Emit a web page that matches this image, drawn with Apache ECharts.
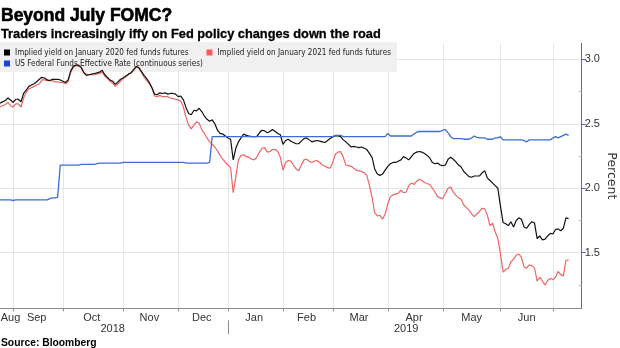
<!DOCTYPE html>
<html><head><meta charset="utf-8">
<script src="https://cdn.jsdelivr.net/npm/echarts@6/dist/echarts.min.js"></script>
<style>html,body{margin:0;padding:0;background:#fff}#c{width:620px;height:348px}</style>
</head><body><div id="c"></div>
<script>
// ---- data (trading-day series, Aug 2018 - Jul 2019) ----
const monthNames = ['Aug','Sep','Oct','Nov','Dec','Jan','Feb','Mar','Apr','May','Jun','Jul'];
const tradingDays = [5,19,23,21,19,21,19,21,21,22,20,12];
const yearLabels = ['2018','2019'];
const yTickValues = [1.5, 2.0, 2.5, 3.0];
const yMinorTicks = [1.25, 1.75, 2.25, 2.75];

const jan2020 = [2.66,2.67,2.68,2.70,2.685,2.665,2.69,2.69,2.67,2.735,
 2.76,2.79,2.80,2.81,2.825,2.845,2.86,2.855,2.84,2.835,
 2.845,2.845,2.845,2.84,2.83,2.82,2.84,2.91,2.945,2.955,
 2.955,2.935,2.895,2.875,2.88,2.885,2.89,2.895,2.90,2.915,
 2.88,2.86,2.84,2.83,2.805,2.825,2.845,2.855,2.87,2.885,
 2.895,2.92,2.945,2.935,2.905,2.875,2.85,2.82,2.78,2.73,
 2.725,2.74,2.735,2.74,2.73,2.735,2.735,2.73,2.71,2.715,
 2.685,2.625,2.58,2.57,2.605,2.60,2.62,2.595,2.56,2.535,
 2.52,2.53,2.50,2.45,2.425,2.42,2.405,2.39,2.38,2.22,
 2.31,2.36,2.39,2.42,2.41,2.405,2.40,2.40,2.40,2.43,
 2.45,2.445,2.43,2.44,2.455,2.44,2.425,2.415,2.34,2.37,
 2.38,2.365,2.355,2.345,2.345,2.365,2.385,2.39,2.375,2.36,
 2.365,2.37,2.365,2.36,2.355,2.37,2.385,2.40,2.405,2.405,
 2.40,2.375,2.36,2.34,2.32,2.325,2.32,2.315,2.32,2.31,
 2.30,2.27,2.24,2.15,2.11,2.10,2.11,2.14,2.17,2.19,
 2.20,2.20,2.21,2.22,2.245,2.235,2.22,2.245,2.27,2.28,
 2.285,2.28,2.27,2.255,2.235,2.20,2.19,2.195,2.18,2.175,
 2.18,2.225,2.24,2.225,2.205,2.18,2.165,2.13,2.11,2.09,
 2.085,2.095,2.095,2.095,2.12,2.135,2.08,2.06,2.04,2.02,
 2.00,1.86,1.735,1.725,1.71,1.74,1.70,1.75,1.77,1.76,
 1.70,1.69,1.72,1.74,1.73,1.61,1.63,1.60,1.605,1.63,
 1.65,1.645,1.68,1.685,1.67,1.69,1.77,1.765];

const jan2021 = [2.63,2.64,2.65,2.665,2.64,2.63,2.655,2.655,2.63,2.70,
 2.745,2.77,2.78,2.79,2.80,2.81,2.84,2.84,2.835,2.835,
 2.835,2.825,2.825,2.82,2.82,2.81,2.825,2.90,2.94,2.955,
 2.945,2.94,2.90,2.885,2.88,2.88,2.88,2.885,2.89,2.90,
 2.87,2.85,2.83,2.815,2.79,2.81,2.83,2.85,2.865,2.88,
 2.895,2.915,2.94,2.93,2.90,2.86,2.835,2.81,2.775,2.715,
 2.71,2.72,2.71,2.71,2.71,2.70,2.695,2.69,2.685,2.675,
 2.63,2.55,2.49,2.46,2.49,2.515,2.505,2.455,2.425,2.39,
 2.36,2.34,2.32,2.29,2.255,2.225,2.20,2.18,2.16,1.965,
 2.09,2.22,2.255,2.26,2.245,2.24,2.225,2.22,2.24,2.28,
 2.31,2.315,2.28,2.285,2.30,2.30,2.285,2.24,2.14,2.20,
 2.215,2.21,2.18,2.15,2.135,2.18,2.22,2.225,2.21,2.20,
 2.21,2.215,2.20,2.18,2.17,2.16,2.155,2.20,2.265,2.28,
 2.285,2.24,2.18,2.175,2.17,2.155,2.14,2.135,2.13,2.12,
 2.10,2.02,1.93,1.81,1.785,1.79,1.76,1.80,1.88,1.935,
 1.95,1.955,1.96,1.985,1.965,1.97,2.02,2.04,2.03,2.055,
 2.07,2.06,2.045,2.035,2.03,2.00,1.97,1.935,1.925,1.92,
 1.96,2.00,2.01,1.97,1.945,1.925,1.915,1.87,1.85,1.83,
 1.80,1.78,1.80,1.82,1.845,1.84,1.79,1.71,1.73,1.66,
 1.61,1.49,1.35,1.37,1.38,1.43,1.45,1.48,1.49,1.465,
 1.39,1.38,1.405,1.40,1.38,1.28,1.31,1.28,1.25,1.285,
 1.30,1.29,1.31,1.355,1.33,1.32,1.44,1.445];

const effRate = [1.91,1.91,1.91,1.91,1.91,1.905,1.91,1.91,1.91,1.91,
 1.91,1.91,1.91,1.91,1.91,1.91,1.91,1.91,1.91,1.92,
 1.925,1.925,1.93,2.18,2.18,2.18,2.18,2.18,2.18,2.18,
 2.18,2.185,2.185,2.185,2.185,2.185,2.185,2.19,2.195,2.195,
 2.195,2.195,2.195,2.195,2.195,2.195,2.195,2.20,2.20,2.20,
 2.20,2.20,2.20,2.20,2.20,2.20,2.20,2.20,2.20,2.20,
 2.20,2.20,2.20,2.20,2.20,2.20,2.20,2.20,2.20,2.20,
 2.20,2.195,2.195,2.195,2.195,2.195,2.195,2.195,2.195,2.195,
 2.20,2.40,2.40,2.40,2.40,2.40,2.40,2.40,2.40,2.40,
 2.40,2.40,2.40,2.40,2.40,2.40,2.40,2.40,2.40,2.40,
 2.40,2.40,2.40,2.40,2.40,2.40,2.40,2.40,2.40,2.40,
 2.40,2.40,2.40,2.40,2.40,2.40,2.40,2.40,2.40,2.40,
 2.40,2.40,2.40,2.40,2.40,2.40,2.40,2.40,2.41,2.41,
 2.41,2.40,2.40,2.40,2.40,2.40,2.40,2.40,2.40,2.40,
 2.40,2.40,2.40,2.40,2.40,2.40,2.40,2.40,2.425,2.405,
 2.405,2.405,2.405,2.405,2.405,2.405,2.405,2.405,2.42,2.435,
 2.44,2.44,2.44,2.44,2.44,2.44,2.44,2.44,2.44,2.45,
 2.455,2.43,2.40,2.385,2.385,2.385,2.385,2.38,2.38,2.38,
 2.39,2.405,2.395,2.39,2.39,2.39,2.38,2.38,2.38,2.39,
 2.39,2.40,2.375,2.375,2.375,2.375,2.375,2.375,2.375,2.375,
 2.37,2.36,2.375,2.375,2.375,2.375,2.375,2.375,2.375,2.375,
 2.375,2.39,2.40,2.39,2.40,2.41,2.42,2.41];

const nameJan20 = 'Implied yield on January 2020 fed funds futures';
const nameJan21 = 'Implied yield on January 2021 fed funds futures';
const nameEff = 'US Federal Funds Effective Rate (continuous series)';

// ---- axis bookkeeping built from the tables above ----
const categories = [];
const monthStart = [];
monthNames.forEach((m, i) => {
  monthStart.push(categories.length);
  for (let d = 0; d < tradingDays[i]; d++) categories.push(m + ' ' + (d + 1));
});
const labelAt = {};
monthNames.forEach((m, i) => {
  if (i === monthNames.length - 1) return;
  const idx = i === 0 ? monthStart[0] + tradingDays[0] - 1 : monthStart[i] + Math.floor(tradingDays[i] / 2);
  labelAt[idx] = m;
});
const tickSet = new Set(monthStart.slice(1));
const yearStart = monthStart[monthNames.indexOf('Jan')];
const yearLabelAt = {};
yearLabelAt[Math.floor(yearStart / 2)] = yearLabels[0];
yearLabelAt[Math.round((yearStart + categories.length - 1) / 2)] = yearLabels[1];

const cond = "'DejaVu Sans Condensed', 'Liberation Sans', sans-serif";
const sans = "'Liberation Sans', Arial, sans-serif";
const axisGray = '#8c8c8c';
const gridGray = '#e6e6e6';
const axisBlue = '#4a6ad0';

const chart = echarts.init(document.getElementById('c'), null, {renderer: 'canvas'});
chart.setOption({
  animation: false,
  backgroundColor: '#fff',
  title: [{
    text: 'Beyond July FOMC?',
    subtext: 'Traders increasingly iffy on Fed policy changes down the road',
    left: 1, top: 7, padding: 0, itemGap: 2,
    textStyle: {fontSize: 17.5, fontWeight: 'bold', color: '#000', fontFamily: sans,
      textBorderColor: '#000', textBorderWidth: 0.6},
    subtextStyle: {fontSize: 12.8, fontWeight: 'bold', color: '#000', fontFamily: sans,
      textBorderColor: '#000', textBorderWidth: 0.3}
  }, {
    text: 'Source: Bloomberg', left: 1, bottom: 0, padding: 0,
    textStyle: {fontSize: 10.3, fontWeight: 'bold', color: '#000', fontFamily: sans}
  }],
  legend: [{
    data: [{name: nameJan20, itemStyle: {color: '#000'}}, {name: nameJan21, itemStyle: {color: '#ff5a5a'}}],
    left: 0, top: 42, padding: [5, 6, 14, 4], itemGap: 18,
    itemWidth: 6, itemHeight: 6, icon: 'rect',
    backgroundColor: '#f0f0f0', selectedMode: false, z: 1,
    textStyle: {fontSize: 8.1, lineHeight: 11, color: '#222', fontFamily: cond}
  }, {
    data: [{name: nameEff, itemStyle: {color: '#1a44d6'}}],
    left: 0, top: 58, padding: [0, 4], itemGap: 18,
    itemWidth: 6, itemHeight: 6, icon: 'rect', selectedMode: false, z: 1,
    textStyle: {fontSize: 8.1, lineHeight: 11, color: '#222', fontFamily: cond}
  }],
  grid: {left: 0, right: 38.3, top: 43.3, bottom: 39.7, containLabel: false, outerBoundsMode: 'none'},
  xAxis: [{
    type: 'category', data: categories, boundaryGap: false, position: 'bottom',
    axisLine: {lineStyle: {color: axisGray, width: 1.2}},
    axisTick: {interval: (i) => tickSet.has(i), length: 3, lineStyle: {color: axisGray}},
    axisLabel: {interval: (i) => (i in labelAt), formatter: (v, i) => labelAt[i] || '',
      color: '#333', fontSize: 11, margin: 4, fontFamily: sans},
    splitLine: {show: true, interval: (i) => tickSet.has(i), lineStyle: {color: gridGray, width: 1}}
  }, {
    type: 'category', data: categories, boundaryGap: false, position: 'bottom', offset: 12,
    axisLine: {show: false},
    axisTick: {show: true, interval: (i) => i === yearStart, length: 14, lineStyle: {color: axisGray}},
    axisLabel: {interval: (i) => (i in yearLabelAt), formatter: (v, i) => yearLabelAt[i] || '',
      color: '#333', fontSize: 11, margin: 3, fontFamily: sans},
    splitLine: {show: false}
  }],
  yAxis: [{
    type: 'value', position: 'right', min: 1.069, max: 3.124,
    axisLine: {show: true, lineStyle: {color: axisBlue, width: 1}},
    axisTick: {show: true, customValues: yTickValues, length: 4, lineStyle: {color: axisBlue}},
    axisLabel: {customValues: yTickValues, formatter: (v) => v.toFixed(1), color: '#333',
      fontSize: 11, margin: 3, fontFamily: sans},
    splitLine: {show: true, lineStyle: {color: gridGray, width: 1}},
    name: 'Percent', nameLocation: 'middle', nameRotate: -90, nameGap: 23, nameMoveOverlap: false,
    nameTextStyle: {fontSize: 12.5, color: '#333', fontFamily: "'DejaVu Sans', sans-serif"}
  }, {
    type: 'value', position: 'right', min: 1.069, max: 3.124,
    axisLine: {show: false},
    axisTick: {show: true, inside: true, customValues: yMinorTicks, length: 3, lineStyle: {color: '#b8b8c8'}},
    axisLabel: {show: false}, splitLine: {show: false}
  }],
  series: [{
    name: nameJan21, type: 'line', data: jan2021, xAxisIndex: 0, yAxisIndex: 0,
    symbol: 'none', z: 2, lineStyle: {color: '#f06464', width: 1.2}, itemStyle: {color: '#f06464'}
  }, {
    name: nameJan20, type: 'line', data: jan2020, xAxisIndex: 0, yAxisIndex: 0,
    symbol: 'none', z: 3, lineStyle: {color: '#111', width: 1.2}, itemStyle: {color: '#111'}
  }, {
    name: nameEff, type: 'line', data: effRate, xAxisIndex: 0, yAxisIndex: 0,
    symbol: 'none', z: 4, lineStyle: {color: '#3c6ed2', width: 1.3}, itemStyle: {color: '#3c6ed2'}
  }]
});
</script>
</body></html>
